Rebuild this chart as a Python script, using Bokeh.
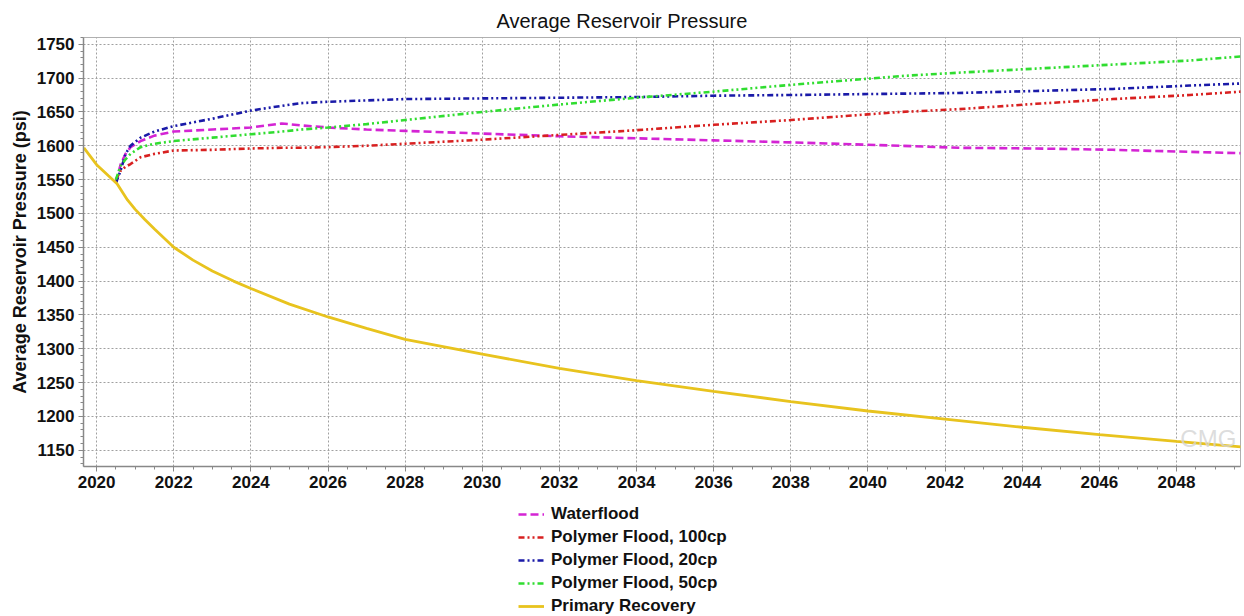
from bokeh.plotting import figure
from bokeh.layouts import column
from bokeh.models import Legend, LegendItem, SingleIntervalTicker, Range1d, Label, Title
from bokeh.embed import file_html
from bokeh.resources import INLINE

# ---- data ----
flood_years = [2020.5, 2020.62, 2020.75, 2020.88, 2021.14, 2021.5, 2022, 2023, 2024, 2024.8, 2025.3,
               2026, 2027, 2028, 2030, 2032, 2034, 2036, 2038, 2040.85, 2042.35, 2044.35, 2046.35,
               2048.35, 2049.67]
waterflood = [1545, 1572, 1588, 1598, 1607, 1615, 1621, 1624, 1627, 1633, 1630,
              1627, 1624, 1622, 1618, 1614, 1611, 1608, 1605, 1600, 1597, 1596, 1594,
              1591, 1589]
polymer_100 = [1550, 1563, 1569, 1573, 1583, 1588, 1593, 1594, 1596, 1597, 1597,
               1598, 1600, 1603, 1609, 1616, 1623, 1631, 1638, 1650, 1654, 1662, 1669,
               1675, 1680]
polymer_20 = [1545, 1563, 1588, 1600, 1612, 1621, 1629, 1640, 1652, 1659, 1663,
              1665, 1667, 1669, 1670, 1671, 1672, 1674, 1675, 1677, 1678, 1681, 1684,
              1689, 1692]
polymer_50 = [1550, 1570, 1580, 1588, 1598, 1603, 1607, 1612, 1617, 1621, 1624,
              1627, 1632, 1638, 1650, 1661, 1671, 1680, 1690, 1703, 1708, 1714, 1720,
              1726, 1732]

primary_years = [2019.67, 2020, 2020.3, 2020.53, 2020.8, 2021.0, 2021.25, 2021.5, 2022, 2022.5, 2023,
                 2023.55, 2024, 2025, 2026, 2027, 2028, 2030, 2032, 2034, 2036, 2038, 2040,
                 2042, 2044, 2046, 2048, 2049.67]
primary = [1597, 1572, 1556, 1544, 1520, 1506, 1491, 1477, 1450, 1431, 1415,
           1400, 1389, 1366, 1347, 1330, 1314, 1292, 1271, 1253, 1237, 1222, 1208,
           1196, 1184, 1173, 1163, 1155]

series_labels = ["Waterflood", "Polymer Flood, 100cp", "Polymer Flood, 20cp",
                 "Polymer Flood, 50cp", "Primary Recovery"]

FONT = "Liberation Sans"
COLORS = ["#D424D4", "#D82020", "#1A1AA8", "#30DD30", "#E8C31E"]
DASHES = ["8 4", "6 3 2 3 2 3", "6 3 2 3 2 3", "6 3 2 3 2 3", "solid"]
WIDTHS = [2.6, 2.6, 2.6, 2.6, 2.8]

p = figure(width=1244, height=500, output_backend="svg", toolbar_location=None,
           x_range=Range1d(2019.66, 2049.66), y_range=Range1d(1126, 1760),
           min_border_left=83, min_border_right=4, min_border_top=37, min_border_bottom=34)

p.title = Title(text="Average Reservoir Pressure", align="left", offset=413, standoff=12,
                text_font=FONT, text_font_size="20px", text_font_style="normal", text_color="#111111")

p.outline_line_color = "#b0b0b0"
p.background_fill_color = "white"

for ax in (p.xaxis[0], p.yaxis[0]):
    ax.major_label_text_font = FONT
    ax.major_label_text_font_size = "17px"
    ax.major_label_text_font_style = "bold"
    ax.major_label_text_color = "#111111"
    ax.axis_line_color = "#888888"
    ax.axis_line_width = 1.5
    ax.major_tick_line_color = "#888888"
    ax.minor_tick_line_color = "#888888"
    ax.major_tick_in = 0
    ax.major_tick_out = 5
    ax.minor_tick_in = 0
    ax.minor_tick_out = 3
    ax.major_label_standoff = 4

p.xaxis.ticker = SingleIntervalTicker(interval=2, num_minor_ticks=4)
p.yaxis.ticker = SingleIntervalTicker(interval=50, num_minor_ticks=5)
p.yaxis.axis_label = "Average Reservoir Pressure (psi)"
p.yaxis.axis_label_text_font = FONT
p.yaxis.axis_label_text_font_size = "18px"
p.yaxis.axis_label_text_font_style = "bold"
p.yaxis.axis_label_text_color = "#111111"
p.yaxis.axis_label_standoff = 4

p.xgrid.grid_line_color = "#a0a0a0"
p.ygrid.grid_line_color = "#a0a0a0"
p.xgrid.grid_line_dash = "2 2"
p.ygrid.grid_line_dash = "2 2"

ys = [waterflood, polymer_100, polymer_20, polymer_50, primary]
xs = [flood_years, flood_years, flood_years, flood_years, primary_years]
for x, y, c, d, w in zip(xs, ys, COLORS, DASHES, WIDTHS):
    p.line(x, y, line_color=c, line_width=w, line_dash=d)

p.add_layout(Label(x=2048.1, y=1148, text="CMG", text_color="#d4d4d4", text_font=FONT,
                   text_font_size="24px", text_alpha=0.8))

# legend panel below the chart (its swatches use invisible NaN placeholder lines)
lf = figure(width=1244, height=116, output_backend="svg", toolbar_location=None,
            x_range=Range1d(0, 1), y_range=Range1d(0, 1),
            x_axis_location=None, y_axis_location=None,
            min_border_left=0, min_border_right=0, min_border_top=0, min_border_bottom=0)
lf.outline_line_color = None
lf.xgrid.visible = False
lf.ygrid.visible = False

nan = float("nan")
items = []
for lab, c, d, w in zip(series_labels, COLORS, DASHES, WIDTHS):
    r = lf.line([nan, nan], [nan, nan], line_color=c, line_width=w, line_dash=d)
    items.append(LegendItem(label=lab, renderers=[r]))

legend = Legend(items=items, location=(435, 0), orientation="vertical",
                label_text_font=FONT, label_text_font_size="17px", label_text_font_style="bold",
                label_text_color="#111111", glyph_width=26, glyph_height=20, label_height=20,
                label_standoff=7, spacing=3, padding=2, margin=0,
                border_line_color=None, background_fill_alpha=0)
lf.add_layout(legend, "center")

layout = column(p, lf, spacing=0)
open("out.html", "w").write(file_html(layout, INLINE))
